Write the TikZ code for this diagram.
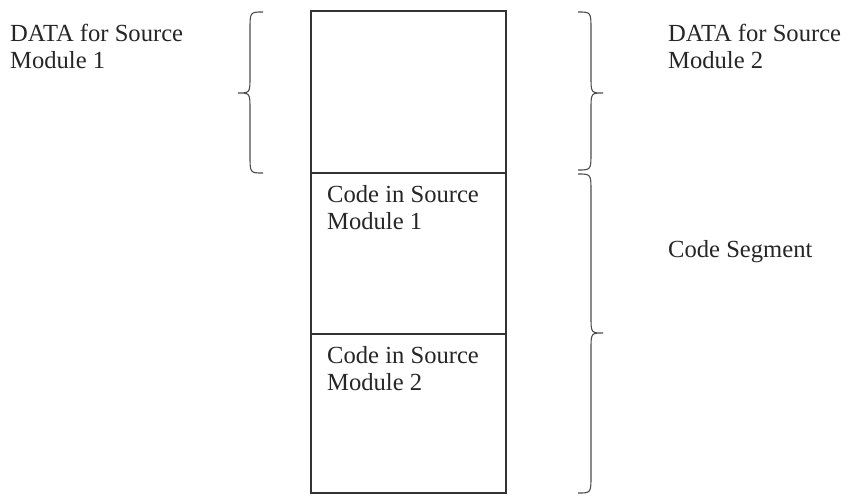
\documentclass[tikz,border=0pt]{standalone}
\usepackage{fontspec}
\setmainfont{Liberation Serif}
\begin{document}
\begin{tikzpicture}[x=1pt,y=-1pt,
  line/.style={draw=black!80,line width=1.3pt},
  bracepath/.style={draw=black!70,line width=1.1pt},
  lbl/.style={anchor=base west,inner sep=0pt,align=left,text=black!85,
    font=\fontsize{24.6}{26.5}\selectfont}]
\useasboundingbox[fill=white] (0,0) rectangle (853,495);
% memory box
\draw[line] (311,11) rectangle (506,493);
\draw[line] (311,173) -- (506,173);
\draw[line] (311,334) -- (506,334);
% braces
\draw[bracepath] (263,12) .. controls (250,12) .. (250,30) -- (250,76)
  .. controls (250,93) .. (238,93) .. controls (250,93) .. (250,110)
  -- (250,155) .. controls (250,173) .. (263,173);
\draw[bracepath] (578,12) .. controls (591,12) .. (591,30) -- (591,76)
  .. controls (591,93) .. (603,93) .. controls (591,93) .. (591,110)
  -- (591,152) .. controls (591,170) .. (578,170);
\draw[bracepath] (578,174) .. controls (591,174) .. (591,192) -- (591,316)
  .. controls (591,333) .. (603,333) .. controls (591,333) .. (591,350)
  -- (591,475) .. controls (591,493) .. (578,493);
% labels (anchor = baseline of last line)
\node[lbl] (d1) at (10,68) {DATA for Source\\Module 1};
\node[lbl] (d2) at (668,68) {DATA for Source\\Module 2};
\node[lbl] (cs) at (668,257) {Code Segment};
\node[lbl] (c1) at (327,229) {Code in Source\\Module 1};
\node[lbl] (c2) at (327,390) {Code in Source\\Module 2};
\end{tikzpicture}
\end{document}
